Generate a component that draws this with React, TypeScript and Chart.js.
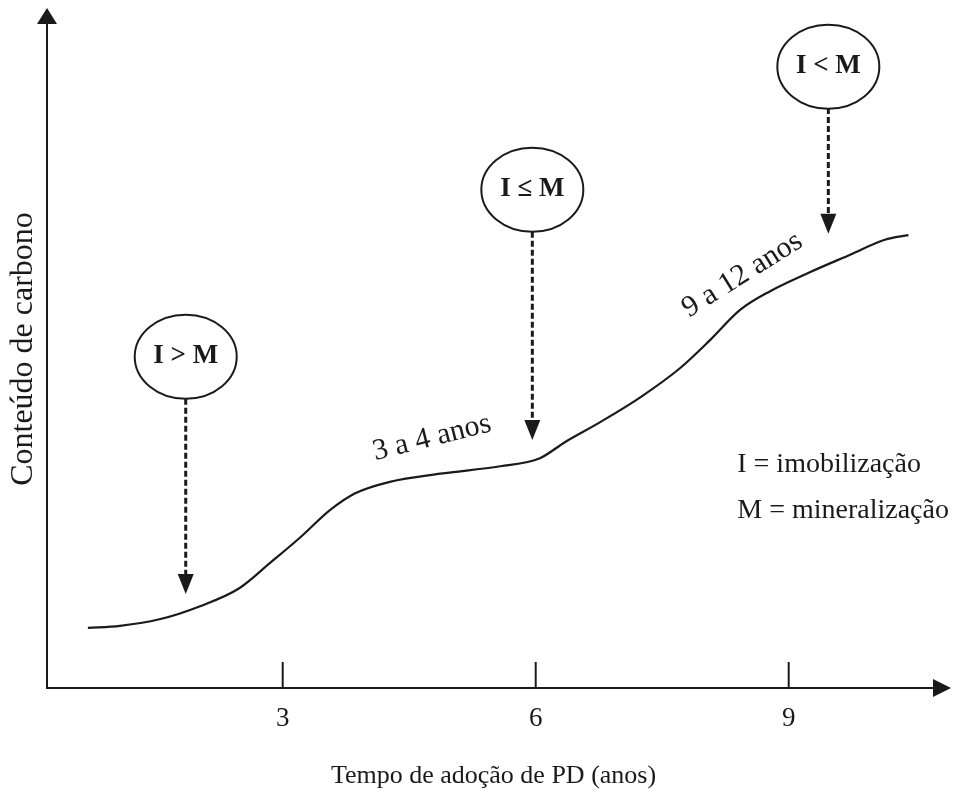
import React, { useEffect, useRef } from "react";
import { Chart, registerables } from "chart.js";

Chart.register(...registerables);

// ---- Data ----
const curveX = [0.69, 1.07, 1.55, 2.02, 2.49, 2.85, 3.21, 3.56, 3.86, 4.27, 4.87, 5.58, 6.05, 6.35, 6.76, 7.24, 7.71, 8.07, 8.42, 8.78, 9.25, 9.73, 10.14, 10.42];
const curveY = [8.9, 9.2, 10.2, 12.1, 14.8, 18.5, 22.3, 26.3, 28.8, 30.5, 31.7, 32.8, 34.0, 36.4, 39.3, 43.0, 47.3, 51.5, 55.9, 58.7, 61.5, 64.1, 66.3, 67.0];

const xTicks = [3, 6, 9];
const xTickLabels = ["3", "6", "9"];

const relationLabels = ["I > M", "I \u2264 M", "I < M"];
const relationX = [1.85, 5.96, 9.47];
const bubbleY = [49.0, 73.7, 91.9];
const arrowStartY = [42.8, 67.5, 85.8];
const arrowTipY = [13.9, 36.7, 67.2];

const phaseLabels = ["3 a 4 anos", "9 a 12 anos"];
const phaseX = [4.77, 8.45];
const phaseY = [37.0, 61.1];
const phaseAngle = [-14, -32];

const legendLines = ["I = imobiliza\u00e7\u00e3o", "M = mineraliza\u00e7\u00e3o"];
const legendX = [8.39, 8.39];
const legendY = [33.0, 26.3];

const xTitle = "Tempo de ado\u00e7\u00e3o de PD (anos)";
const yTitle = "Conte\u00fado de carbono";

const FONT = "'Liberation Serif', 'Times New Roman', serif";
const INK = "#1a1a1a";

const diagramPlugin = {
  id: "diagram",
  afterDatasetsDraw(chart: any) {
    const { ctx, chartArea: ca, scales } = chart;
    const xs = scales.x;
    const ys = scales.y;
    ctx.save();
    ctx.strokeStyle = INK;
    ctx.fillStyle = INK;
    ctx.lineWidth = 2;
    ctx.setLineDash([]);

    // x axis with arrow
    ctx.beginPath();
    ctx.moveTo(ca.left, ca.bottom);
    ctx.lineTo(ca.right - 12, ca.bottom);
    ctx.stroke();
    ctx.beginPath();
    ctx.moveTo(ca.right + 3, ca.bottom);
    ctx.lineTo(ca.right - 15, ca.bottom - 9);
    ctx.lineTo(ca.right - 15, ca.bottom + 9);
    ctx.closePath();
    ctx.fill();

    // y axis with arrow
    ctx.beginPath();
    ctx.moveTo(ca.left, ca.bottom + 1);
    ctx.lineTo(ca.left, ca.top + 8);
    ctx.stroke();
    ctx.beginPath();
    ctx.moveTo(ca.left, ca.top - 4);
    ctx.lineTo(ca.left - 10, ca.top + 12);
    ctx.lineTo(ca.left + 10, ca.top + 12);
    ctx.closePath();
    ctx.fill();

    // ticks & labels
    ctx.font = `27px ${FONT}`;
    ctx.textAlign = "center";
    ctx.textBaseline = "middle";
    xTicks.forEach((t, i) => {
      const px = xs.getPixelForValue(t);
      ctx.beginPath();
      ctx.moveTo(px, ca.bottom);
      ctx.lineTo(px, ca.bottom - 26);
      ctx.stroke();
      ctx.fillText(xTickLabels[i], px, ca.bottom + 31);
    });

    // axis titles
    ctx.font = `26px ${FONT}`;
    ctx.fillText(xTitle, (ca.left + ca.right) / 2 - 4, ca.bottom + 88);
    ctx.save();
    ctx.translate(24, (ca.top + ca.bottom) / 2 - 1);
    ctx.rotate(-Math.PI / 2);
    ctx.font = `32px ${FONT}`;
    ctx.fillText(yTitle, 0, 0);
    ctx.restore();

    // bubbles and dashed arrows
    relationLabels.forEach((lab, i) => {
      const cx = xs.getPixelForValue(relationX[i]);
      const cy = ys.getPixelForValue(bubbleY[i]);
      ctx.lineWidth = 2;
      ctx.setLineDash([]);
      ctx.beginPath();
      ctx.ellipse(cx, cy, 51, 42, 0, 0, Math.PI * 2);
      ctx.stroke();
      ctx.font = `bold 27px ${FONT}`;
      ctx.fillText(lab, cx, cy - 1);

      const y0 = ys.getPixelForValue(arrowStartY[i]);
      const yTip = ys.getPixelForValue(arrowTipY[i]);
      ctx.lineWidth = 3;
      ctx.setLineDash([6, 3]);
      ctx.beginPath();
      ctx.moveTo(cx, y0);
      ctx.lineTo(cx, yTip - 16);
      ctx.stroke();
      ctx.setLineDash([]);
      ctx.beginPath();
      ctx.moveTo(cx, yTip);
      ctx.lineTo(cx - 8, yTip - 20);
      ctx.lineTo(cx + 8, yTip - 20);
      ctx.closePath();
      ctx.fill();
    });

    // phase labels along curve
    ctx.font = `30px ${FONT}`;
    phaseLabels.forEach((lab, i) => {
      ctx.save();
      ctx.translate(xs.getPixelForValue(phaseX[i]), ys.getPixelForValue(phaseY[i]));
      ctx.rotate((phaseAngle[i] * Math.PI) / 180);
      ctx.fillText(lab, 0, 0);
      ctx.restore();
    });

    // legend text
    ctx.font = `28px ${FONT}`;
    ctx.textAlign = "left";
    legendLines.forEach((t, i) => {
      ctx.fillText(t, xs.getPixelForValue(legendX[i]), ys.getPixelForValue(legendY[i]));
    });

    ctx.restore();
  },
};

export default function App() {
  const ref = useRef<HTMLCanvasElement>(null);
  useEffect(() => {
    if (!ref.current) return;
    const chart = new Chart(ref.current, {
      type: "line",
      data: {
        datasets: [
          {
            data: curveX.map((x, i) => ({ x, y: curveY[i] })),
            borderColor: INK,
            borderWidth: 2.2,
            pointRadius: 0,
            cubicInterpolationMode: "monotone",
            fill: false,
          },
        ],
      },
      options: {
        responsive: false,
        animation: false,
        layout: { padding: { left: 47, right: 10, top: 12, bottom: 114 } },
        plugins: { legend: { display: false }, tooltip: { enabled: false } },
        scales: {
          x: { type: "linear", min: 0.205, max: 10.889, display: false },
          y: { type: "linear", min: 0, max: 100, display: false },
        },
      },
      plugins: [diagramPlugin],
    });
    return () => chart.destroy();
  }, []);
  return (
    <div style={{ position: "absolute", left: 0, top: 0, width: 958, height: 802, background: "#fff" }}>
      <canvas ref={ref} width={958} height={802} />
    </div>
  );
}
